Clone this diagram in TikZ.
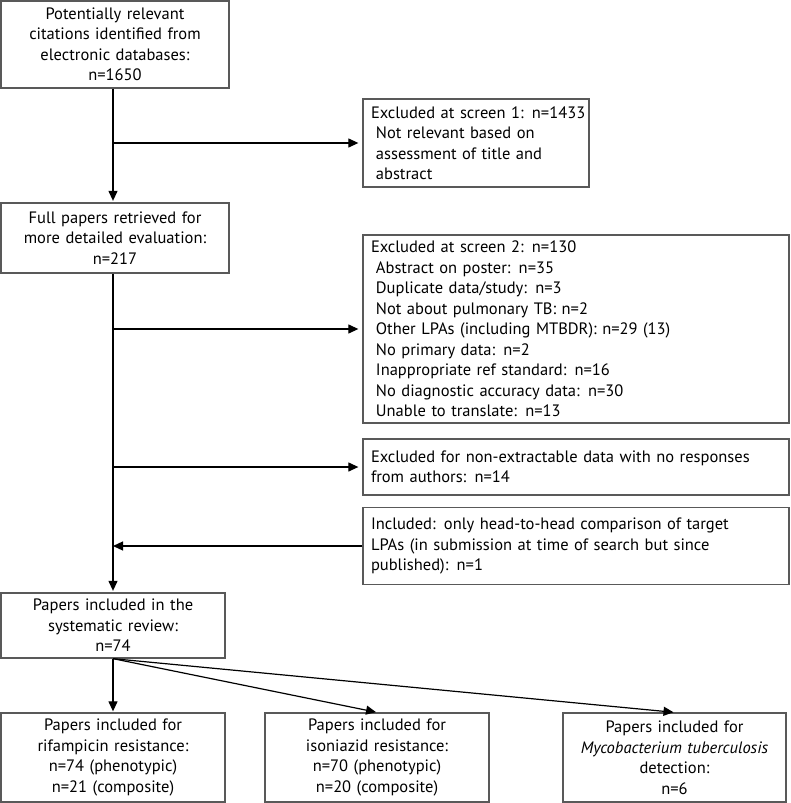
\documentclass[tikz,border=0pt]{standalone}
\usepackage{fontspec}
\setmainfont{PT Sans}
\usetikzlibrary{arrows.meta}
\tikzset{
  box/.style={draw=black!65, line width=1.3pt, inner ysep=0pt, inner xsep=8pt,
    font=\fontsize{16.5}{20.5}\selectfont},
  cbox/.style={box, align=center},
  lbox/.style={box, align=left},
  arr/.style={draw=black, line width=1.2pt, -{Triangle[length=10pt,width=9pt]}},
}
\newcommand{\ind}{\hspace*{0.3em}}
\begin{document}
\begin{tikzpicture}[x=1pt,y=-1pt]
\useasboundingbox (0,0) rectangle (790,803);
% left column
\node[cbox, minimum width=228pt, minimum height=87pt, text width=212pt] (b1) at (115,44.5)
  {Potentially relevant\\citations identified from\\electronic databases:\\n=1650};
\node[cbox, minimum width=228pt, minimum height=70pt, text width=212pt] (b2) at (115,238)
  {Full papers retrieved for\\more detailed evaluation:\\n=217};
\node[cbox, minimum width=224pt, minimum height=65pt, text width=208pt] (b3) at (113,625.5)
  {Papers included in the\\systematic review:\\n=74};
% right column
\node[lbox, minimum width=226pt, minimum height=88pt, text width=210pt] (e1) at (476,143)
  {\mbox{Excluded at screen 1: n=1433}\\\ind Not relevant based on\\\ind assessment of title and\\\ind abstract};
\node[lbox, minimum width=426pt, minimum height=188pt, text width=410pt] (e2) at (576,329)
  {Excluded at screen 2: n=130\\
   \ind Abstract on poster: n=35\\
   \ind Duplicate data/study: n=3\\
   \ind Not about pulmonary TB: n=2\\
   \ind Other LPAs (including MTBDR): n=29 (13)\\
   \ind No primary data: n=2\\
   \ind Inappropriate ref standard: n=16\\
   \ind No diagnostic accuracy data: n=30\\
   \ind Unable to translate: n=13};
\node[lbox, minimum width=426pt, minimum height=56pt, text width=410pt] (e3) at (576,467)
  {Excluded for non-extractable data with no responses\\from authors: n=14};
\node[lbox, minimum width=426pt, minimum height=77pt, text width=410pt] (inc) at (576,546)
  {Included: only head-to-head comparison of target\\LPAs (in submission at time of search but since\\published): n=1};
% bottom row
\node[cbox, minimum width=224pt, minimum height=89pt, text width=208pt] (bA) at (113,757.5)
  {Papers included for\\rifampicin resistance:\\n=74 (phenotypic)\\n=21 (composite)};
\node[cbox, minimum width=224pt, minimum height=89pt, text width=208pt] (bB) at (377,757.5)
  {Papers included for\\isoniazid resistance:\\n=70 (phenotypic)\\n=20 (composite)};
\node[cbox, minimum width=223pt, minimum height=89pt, text width=207pt] (bC) at (674.5,757.5)
  {Papers included for\\\textit{Mycobacterium tuberculosis}\\detection:\\n=6};
% connectors
\draw[arr, shorten >=1.5pt] (b1.south -| b3.north) -- (b2.north -| b3.north);
\draw[arr, shorten >=1.5pt] (b2.south -| b3.north) -- (b3.north);
\draw[arr, shorten >=4pt] (e1.west -| b3.north) -- (e1.west);
\draw[arr, shorten >=4pt] (e2.west -| b3.north) -- (e2.west);
\draw[arr, shorten >=4pt] (e3.west -| b3.north) -- (e3.west);
\draw[arr] (inc.west) -- (inc.west -| b3.north);
\draw[arr, shorten >=1pt] (b3.south) -- (bA.north);
\draw[arr, shorten >=1pt] (b3.south) -- (bB.north);
\draw[arr, shorten >=1pt] (b3.south) -- (bC.north);
\end{tikzpicture}
\end{document}
